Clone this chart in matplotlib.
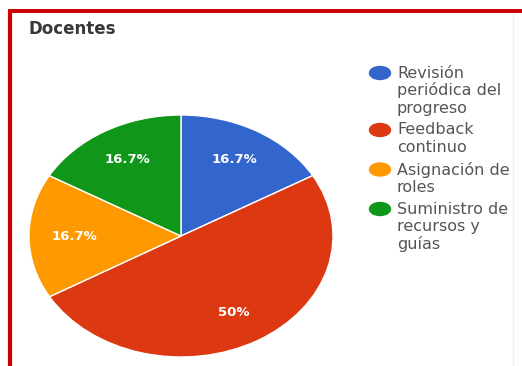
import numpy as np
import matplotlib
matplotlib.use("Agg")
import matplotlib.pyplot as plt
from matplotlib.patches import Ellipse

# ---------------------------------------------------
# DATA
# ---------------------------------------------------

title = "Docentes"

categories = [
    "Revisión\nperiódica del\nprogreso",
    "Feedback\ncontinuo",
    "Asignación de\nroles",
    "Suministro de\nrecursos y\nguías",
]

shares = [16.7, 50.0, 16.7, 16.7]

pct_labels = ["16.7%", "50%", "16.7%", "16.7%"]

colors = ["#3366cc", "#dc3912", "#ff9900", "#109618"]

# ---------------------------------------------------
# FIGURE
# ---------------------------------------------------

W, H = 522, 366

fig = plt.figure(figsize=(W / 100, H / 100), dpi=100)

# overlay axes in pixel units for frame, title and legend
ov = fig.add_axes([0, 0, 1, 1])
ov.set_xlim(0, W)
ov.set_ylim(H, 0)
ov.axis("off")

# red frame (top and left), faint right rule
ov.plot([8, W], [11.3, 11.3], color="#cc0000", linewidth=2.8,
        solid_capstyle="butt")
ov.plot([10, 10], [10, H], color="#cc0000", linewidth=3.0,
        solid_capstyle="butt")
ov.plot([513, 513], [14, H], color="#ededed", linewidth=1.0)

ov.text(28, 29, title, fontsize=12, fontweight="bold",
        color="#383838", va="center", ha="left")

# ---------------------------------------------------
# PIE (stretched horizontally)
# ---------------------------------------------------

cx, cy, rx, ry = 181, 236, 152, 121

pie_ax = fig.add_axes([(cx - rx) / W, (H - cy - ry) / H,
                       2 * rx / W, 2 * ry / H])

wedges, _ = pie_ax.pie(
    shares,
    colors=colors,
    startangle=90,
    counterclock=False,
    wedgeprops=dict(edgecolor="white", linewidth=1.0),
)

pie_ax.set_aspect("auto")
pie_ax.set_xlim(-1, 1)
pie_ax.set_ylim(-1, 1)

for w, lab in zip(wedges, pct_labels):
    mid = np.deg2rad((w.theta1 + w.theta2) / 2)
    pie_ax.text(
        0.7 * np.cos(mid),
        0.73 * np.sin(mid),
        lab,
        ha="center",
        va="center",
        color="white",
        fontsize=9.5,
        fontweight="bold",
    )

# ---------------------------------------------------
# LEGEND
# ---------------------------------------------------

line_step = 17.5
item_gap = 22
y = 73

for cat, col in zip(categories, colors):
    lines = cat.split("\n")
    ov.add_patch(Ellipse((380, y), 21, 13, color=col))
    for i, ln in enumerate(lines):
        ov.text(397, y + i * line_step, ln, fontsize=11.5,
                color="#555555", va="center", ha="left")
    y += (len(lines) - 1) * line_step + item_gap

fig.savefig("out.png", dpi=100)
